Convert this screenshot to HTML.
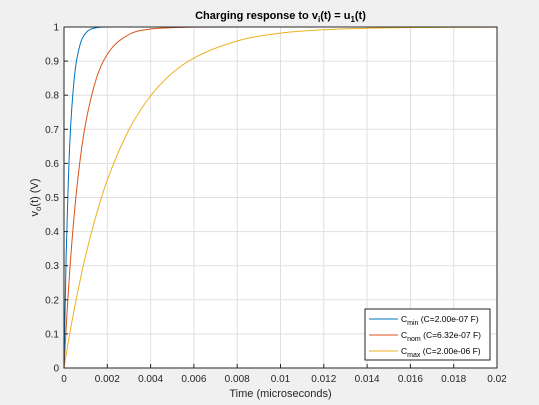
<!DOCTYPE html>
<html><head><meta charset="utf-8"><style>
body{margin:0;background:#f0f0f0;}
svg{display:block;font-family:"Liberation Sans",sans-serif;}
</style></head><body>
<svg id="chart" width="539" height="405" viewBox="0 0 539 405">
<rect x="0" y="0" width="539" height="405" fill="#f0f0f0"/>
<rect x="64" y="27" width="433" height="341" fill="#fff"/>
<g id="grid"></g>
<g id="series"></g>
<rect x="64" y="27" width="433" height="341" fill="none" stroke="#262626" stroke-width="1"/>
<g id="ticks"></g>
<text x="280.5" y="19" text-anchor="middle" font-size="11" font-weight="bold" fill="#000">Charging response to v<tspan font-size="8" dy="3">i</tspan><tspan dy="-3">(t) = u</tspan><tspan font-size="8" dy="3">1</tspan><tspan dy="-3">(t)</tspan></text>
<text x="280.5" y="397" text-anchor="middle" font-size="11" fill="#262626">Time (microseconds)</text>
<text transform="translate(38,197.5) rotate(-90)" text-anchor="middle" font-size="11" fill="#262626">v<tspan font-size="8" dy="3">o</tspan><tspan dy="-3">(t) (V)</tspan></text>
<g>
<rect x="365" y="309" width="125" height="51" fill="#fff" stroke="#262626" stroke-width="1"/>
<g>
<line x1="369" y1="319" x2="398" y2="319" stroke="#0072BD"/>
<text x="401" y="322" font-size="8.5" fill="#000">C<tspan font-size="7" dy="3">min</tspan><tspan dy="-3"> (C=2.00e-07 F)</tspan></text>
</g>
<g>
<line x1="369" y1="335" x2="398" y2="335" stroke="#D95319"/>
<text x="401" y="338" font-size="8.5" fill="#000">C<tspan font-size="7" dy="3">nom</tspan><tspan dy="-3"> (C=6.32e-07 F)</tspan></text>
</g>
<g>
<line x1="369" y1="351" x2="398" y2="351" stroke="#EDB120"/>
<text x="401" y="354" font-size="8.5" fill="#000">C<tspan font-size="7" dy="3">max</tspan><tspan dy="-3"> (C=2.00e-06 F)</tspan></text>
</g>
</g>
</svg>
<script>
const xTicks=[0,0.002,0.004,0.006,0.008,0.01,0.012,0.014,0.016,0.018,0.02];
const xTickLabels=["0","0.002","0.004","0.006","0.008","0.01","0.012","0.014","0.016","0.018","0.02"];
const yTicks=[0,0.1,0.2,0.3,0.4,0.5,0.6,0.7,0.8,0.9,1];
const yTickLabels=["0","0.1","0.2","0.3","0.4","0.5","0.6","0.7","0.8","0.9","1"];
const timePts=[0,0.0001,0.0002,0.0003,0.0005,0.00075,0.001,0.0015,0.002,0.003,0.004,0.005,0.006,0.008,0.01,0.012,0.015,0.02];
const vMin=[0,0.33,0.55,0.70,0.865,0.95,0.982,0.998,1,1,1,1,1,1,1,1,1,1];
const vNom=[0,0.119,0.224,0.316,0.469,0.613,0.718,0.850,0.920,0.978,0.994,0.998,0.9995,1,1,1,1,1];
const vMax=[0,0.039,0.077,0.113,0.181,0.259,0.330,0.451,0.551,0.699,0.798,0.865,0.909,0.959,0.982,0.992,0.9975,0.9997];
const NS="http://www.w3.org/2000/svg";
const L=64,T=27,W=433,H=341;
const xs=v=>L+v/0.02*W, ys=v=>T+H-v*H;
const grid=document.getElementById('grid'),ticks=document.getElementById('ticks'),series=document.getElementById('series');
function mk(tag,attrs,parent){const e=document.createElementNS(NS,tag);for(const k in attrs)e.setAttribute(k,attrs[k]);parent.appendChild(e);return e;}
xTicks.forEach((t,i)=>{const x=xs(t);
 const g=mk('line',{x1:x,x2:x,y1:T,y2:T+H,stroke:'#dfdfdf','stroke-width':1},grid);
 
 
 const tk=mk('line',{x1:x,x2:x,y1:T+H,y2:T+H-4,stroke:'#262626'},ticks);
 
 
 const tx=mk('text',{x:x,y:T+H+14,'text-anchor':'middle','font-size':'10',fill:'#262626'},ticks);
 tx.textContent=xTickLabels[i];
 
 
});
yTicks.forEach((t,i)=>{const y=ys(t);
 const g=mk('line',{x1:L,x2:L+W,y1:y,y2:y,stroke:'#dfdfdf','stroke-width':1},grid);
 
 
 const tk=mk('line',{x1:L,x2:L+4,y1:y,y2:y,stroke:'#262626'},ticks);
 
 
 const tx=mk('text',{x:L-5,y:y+3.5,'text-anchor':'end','font-size':'10',fill:'#262626'},ticks);
 tx.textContent=yTickLabels[i];
 
 
});
function monoPath(xv,yv){
 const px=xv.map(xs),py=yv.map(ys),n=px.length,d=[],m=[];
 for(let i=0;i<n-1;i++)d.push((py[i+1]-py[i])/(px[i+1]-px[i]));
 m[0]=d[0];m[n-1]=d[n-2];
 for(let i=1;i<n-1;i++){m[i]=(d[i-1]*d[i]<=0)?0:(d[i-1]+d[i])/2;}
 for(let i=0;i<n-1;i++){if(d[i]===0){m[i]=0;m[i+1]=0;continue;}const a=m[i]/d[i],b=m[i+1]/d[i],s=a*a+b*b;if(s>9){const t=3/Math.sqrt(s);m[i]=t*a*d[i];m[i+1]=t*b*d[i];}}
 let p='M'+px[0]+','+py[0];
 for(let i=0;i<n-1;i++){const h=(px[i+1]-px[i])/3;p+=' C'+(px[i]+h)+','+(py[i]+m[i]*h)+' '+(px[i+1]-h)+','+(py[i+1]-m[i+1]*h)+' '+px[i+1]+','+py[i+1];}
 return p;
}
const sMax=mk('path',{d:monoPath(timePts,vMax),fill:'none',stroke:'#EDB120','stroke-width':1},series);


const sNom=mk('path',{d:monoPath(timePts,vNom),fill:'none',stroke:'#D95319','stroke-width':1},series);


const sMin=mk('path',{d:monoPath(timePts,vMin),fill:'none',stroke:'#0072BD','stroke-width':1},series);


</script>
</body></html>
